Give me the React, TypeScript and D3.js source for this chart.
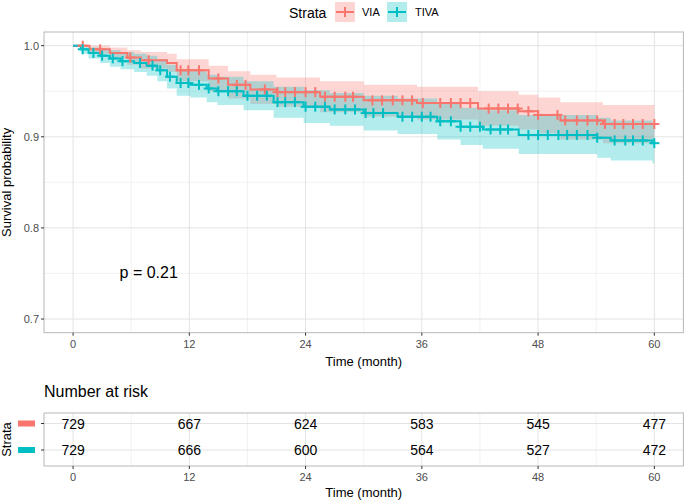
import React from "react";
import * as d3 from "d3";

const W = 685, H = 503;
const FONT = "'Liberation Sans', Arial, Helvetica, sans-serif";

const END_TIME = 60;
const xTicks = [0, 12, 24, 36, 48, 60];
const yTicks = [0.7, 0.8, 0.9, 1.0];
const strataNames = ["VIA", "TIVA"];
const strataColors = ["#F8766D", "#00BFC4"];

// VIA step curve
const viaTime = [0, 1.7, 3.8, 5.6, 7, 9.7, 10.7, 14, 16, 18.3, 21, 25.5, 30, 35.5, 41.8, 46, 48, 50.3, 54.7];
const viaSurv = [1.0, 0.996, 0.992, 0.987, 0.984, 0.981, 0.973, 0.964, 0.957, 0.952, 0.949, 0.944, 0.940, 0.937, 0.931, 0.928, 0.924, 0.918, 0.914];
const viaUpper = [1.0, 1.0, 0.998, 0.995, 0.993, 0.991, 0.985, 0.978, 0.972, 0.968, 0.965, 0.961, 0.957, 0.955, 0.950, 0.946, 0.943, 0.938, 0.935];
const viaLower = [1.0, 0.991, 0.986, 0.979, 0.975, 0.971, 0.961, 0.950, 0.942, 0.936, 0.933, 0.927, 0.922, 0.919, 0.912, 0.908, 0.904, 0.897, 0.893];
const viaCensor = [1, 2.8, 5.9, 7.8, 11.1, 11.9, 13, 15, 16.9, 17.8, 19.8, 21.1, 21.9, 22.9, 24, 25, 26, 27, 28.1, 28.9, 30.9, 31.9, 33, 34, 35, 36.1, 37.9, 39, 40, 41, 42.9, 43.9, 44.9, 45.9, 47, 48, 50, 50.8, 52, 53.1, 54.1, 54.9, 55.9, 56.8, 57.8, 58.8, 60];

// TIVA step curve
const tivaTime = [0, 0.8, 1.6, 2.8, 3.8, 4.9, 6.3, 7.6, 8.7, 9.7, 10.7, 12.1, 13.8, 14.9, 17.6, 20.7, 23.8, 26.5, 30, 33.5, 37.6, 40, 42.3, 46, 54.1, 55.5, 59.8];
const tivaSurv = [1.0, 0.996, 0.992, 0.989, 0.986, 0.983, 0.981, 0.978, 0.973, 0.966, 0.959, 0.957, 0.953, 0.950, 0.945, 0.938, 0.933, 0.930, 0.926, 0.922, 0.917, 0.911, 0.908, 0.902, 0.899, 0.896, 0.893];
const tivaUpper = [1.0, 1.0, 0.998, 0.997, 0.995, 0.993, 0.991, 0.989, 0.985, 0.979, 0.973, 0.972, 0.968, 0.966, 0.961, 0.955, 0.951, 0.948, 0.945, 0.942, 0.937, 0.932, 0.929, 0.924, 0.921, 0.918, 0.915];
const tivaLower = [1.0, 0.991, 0.986, 0.981, 0.977, 0.974, 0.971, 0.967, 0.961, 0.953, 0.945, 0.943, 0.938, 0.935, 0.929, 0.921, 0.915, 0.912, 0.907, 0.903, 0.897, 0.891, 0.887, 0.881, 0.877, 0.874, 0.871];
const tivaCensor = [1, 2.1, 3, 4.1, 5.1, 6.9, 8.2, 9, 10, 11.1, 11.9, 13, 14, 15, 16, 16.9, 18, 19, 20, 21.1, 21.9, 22.9, 24, 25, 26, 27, 28.1, 29.1, 30.2, 31, 32, 34, 35, 36, 36.9, 37.9, 39, 40, 41, 42, 43.1, 44.1, 44.9, 47, 48, 49, 50.1, 51, 52, 53.1, 54.1, 55.9, 57, 57.8, 58.8, 60];

const viaRisk = [729, 667, 624, 583, 545, 477];
const tivaRisk = [729, 666, 600, 564, 527, 472];
const pValueText = "p = 0.21";

type Pt = { t: number; s: number; u: number; l: number };

function buildSeries(time: number[], surv: number[], up: number[], lo: number[]): Pt[] {
  const pts: Pt[] = time.map((t, i) => ({ t, s: surv[i], u: up[i], l: lo[i] }));
  const last = pts[pts.length - 1];
  pts.push({ t: END_TIME, s: last.s, u: last.u, l: last.l });
  return pts;
}

function survAt(pts: Pt[], t: number) {
  let v = pts[0].s;
  for (const p of pts) if (p.t <= t) v = p.s;
  return v;
}

export default function App() {
  const panel = { left: 44, right: 683.4, top: 32, bottom: 332.7 };
  const x = d3.scaleLinear().domain([-3, 63]).range([panel.left, panel.right]);
  const y = d3.scaleLinear().domain([0.685, 1.015]).range([panel.bottom, panel.top]);

  const series = [
    { pts: buildSeries(viaTime, viaSurv, viaUpper, viaLower), censor: viaCensor },
    { pts: buildSeries(tivaTime, tivaSurv, tivaUpper, tivaLower), censor: tivaCensor },
  ];

  const line = d3.line<Pt>().x(d => x(d.t)).y(d => y(d.s)).curve(d3.curveStepAfter);
  const area = d3.area<Pt>().x(d => x(d.t)).y0(d => y(d.l)).y1(d => y(d.u)).curve(d3.curveStepAfter);

  const xMinor = [6, 18, 30, 42, 54];
  const yMinor = [0.75, 0.85, 0.95];

  // risk table
  const rt = { top: 413, bottom: 466 };
  const yr = d3.scalePoint<number>().domain([0, 1]).range([423.5, 450]);
  const tickCol = "#4D4D4D";
  const gridMajor = "#e3e3e3";
  const gridMinor = "#efefef";
  const border = "#b8b8b8";

  return (
    <svg width={W} height={H} style={{ position: "absolute", left: 0, top: 0, background: "#fff" }} fontFamily={FONT}>
      <rect x={0} y={0} width={W} height={H} fill="#fff" />
      {/* Legend */}
      <text x={289} y={18} fontSize={14} fill="#000">Strata</text>
      {strataNames.map((n, i) => {
        const kx = i === 0 ? 335 : 387;
        const lx = i === 0 ? 362 : 415;
        return (
          <g key={n}>
            <rect x={kx} y={2} width={20} height={20} fill={strataColors[i]} fillOpacity={0.3} />
            <line x1={kx + 1} x2={kx + 19} y1={12} y2={12} stroke={strataColors[i]} strokeWidth={2} />
            <line x1={kx + 10} x2={kx + 10} y1={7} y2={17} stroke={strataColors[i]} strokeWidth={2} />
            <text x={lx} y={16} fontSize={11} fill="#000">{n}</text>
          </g>
        );
      })}

      {/* Main panel grid */}
      {xMinor.map(t => <line key={"xm" + t} x1={x(t)} x2={x(t)} y1={panel.top} y2={panel.bottom} stroke={gridMinor} strokeWidth={0.8} />)}
      {yMinor.map(v => <line key={"ym" + v} x1={panel.left} x2={panel.right} y1={y(v)} y2={y(v)} stroke={gridMinor} strokeWidth={0.8} />)}
      {xTicks.map(t => <line key={"xg" + t} x1={x(t)} x2={x(t)} y1={panel.top} y2={panel.bottom} stroke={gridMajor} strokeWidth={1} />)}
      {yTicks.map(v => <line key={"yg" + v} x1={panel.left} x2={panel.right} y1={y(v)} y2={y(v)} stroke={gridMajor} strokeWidth={1} />)}

      {/* Ribbons */}
      {series.map((s, i) => <path key={"rb" + i} d={area(s.pts) || ""} fill={strataColors[i]} fillOpacity={0.3} stroke="none" />)}
      {/* Curves */}
      {series.map((s, i) => <path key={"ln" + i} d={line(s.pts) || ""} fill="none" stroke={strataColors[i]} strokeWidth={2} />)}
      {/* Censor marks */}
      {series.map((s, i) => (
        <g key={"cs" + i} stroke={strataColors[i]} strokeWidth={2}>
          {s.censor.map((t, j) => {
            const cx = x(t), cy = y(survAt(s.pts, t));
            return (
              <g key={j}>
                <line x1={cx - 5} x2={cx + 5} y1={cy} y2={cy} />
                <line x1={cx} x2={cx} y1={cy - 5} y2={cy + 5} />
              </g>
            );
          })}
        </g>
      ))}

      <rect x={panel.left} y={panel.top} width={panel.right - panel.left} height={panel.bottom - panel.top} fill="none" stroke={border} strokeWidth={1} />

      {/* p-value */}
      <text x={x(4.8)} y={y(0.752) + 6} fontSize={16} fill="#000">{pValueText}</text>

      {/* Y axis */}
      {yTicks.map(v => (
        <g key={"yt" + v}>
          <line x1={panel.left - 3} x2={panel.left} y1={y(v)} y2={y(v)} stroke="#333" strokeWidth={1} />
          <text x={panel.left - 5} y={y(v) + 4} fontSize={11} textAnchor="end" fill={tickCol}>{v.toFixed(1)}</text>
        </g>
      ))}
      <text transform={`translate(11,${(panel.top + panel.bottom) / 2}) rotate(-90)`} fontSize={13} textAnchor="middle" fill="#000">Survival probability</text>

      {/* X axis */}
      {xTicks.map(t => (
        <g key={"xt" + t}>
          <line x1={x(t)} x2={x(t)} y1={panel.bottom} y2={panel.bottom + 3} stroke="#333" strokeWidth={1} />
          <text x={x(t)} y={panel.bottom + 15} fontSize={11} textAnchor="middle" fill={tickCol}>{t}</text>
        </g>
      ))}
      <text x={(panel.left + panel.right) / 2} y={366} fontSize={13} textAnchor="middle" fill="#000">Time (month)</text>

      {/* Risk table */}
      <text x={panel.left} y={397} fontSize={16} fill="#000">Number at risk</text>
      {xMinor.map(t => <line key={"rxm" + t} x1={x(t)} x2={x(t)} y1={rt.top} y2={rt.bottom} stroke={gridMinor} strokeWidth={0.8} />)}
      {xTicks.map(t => <line key={"rxg" + t} x1={x(t)} x2={x(t)} y1={rt.top} y2={rt.bottom} stroke={gridMajor} strokeWidth={1} />)}
      {[0, 1].map(r => <line key={"ryg" + r} x1={panel.left} x2={panel.right} y1={yr(r)!} y2={yr(r)!} stroke={gridMajor} strokeWidth={1} />)}
      <rect x={panel.left} y={rt.top} width={panel.right - panel.left} height={rt.bottom - rt.top} fill="none" stroke={border} strokeWidth={1} />
      {[viaRisk, tivaRisk].map((row, r) => row.map((n, j) => (
        <text key={`r${r}-${j}`} x={x(xTicks[j])} y={yr(r)! + 5} fontSize={14} textAnchor="middle" fill="#000">{n}</text>
      )))}
      {[0, 1].map(r => (
        <g key={"sw" + r}>
          <rect x={18} y={yr(r)! - 3} width={17} height={6} fill={strataColors[r]} />
          <line x1={panel.left - 3} x2={panel.left} y1={yr(r)!} y2={yr(r)!} stroke="#333" strokeWidth={1} />
        </g>
      ))}
      <text transform={`translate(11,${(rt.top + rt.bottom) / 2}) rotate(-90)`} fontSize={13} textAnchor="middle" fill="#000">Strata</text>
      {xTicks.map(t => (
        <g key={"rxt" + t}>
          <line x1={x(t)} x2={x(t)} y1={rt.bottom} y2={rt.bottom + 3} stroke="#333" strokeWidth={1} />
          <text x={x(t)} y={rt.bottom + 15} fontSize={11} textAnchor="middle" fill={tickCol}>{t}</text>
        </g>
      ))}
      <text x={(panel.left + panel.right) / 2} y={497} fontSize={13} textAnchor="middle" fill="#000">Time (month)</text>
    </svg>
  );
}
